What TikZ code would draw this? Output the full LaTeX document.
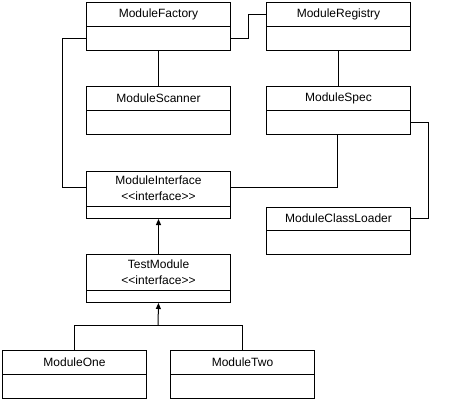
\documentclass[tikz,border=0pt]{standalone}
\usepackage{fontspec}
\setmainfont{Liberation Sans}
\usetikzlibrary{arrows.meta,calc}
\tikzset{
  classbox/.style={draw, line width=1pt, minimum width=144pt, inner sep=0pt, anchor=north west},
  classtext/.style={align=center, inner sep=0pt, font=\fontsize{12}{16}\selectfont},
  conn/.style={line width=1pt},
  inherit/.style={line width=1pt, -{Triangle[width=5pt,length=6pt]}}
}
% #1 name, #2 x, #3 ytop, #4 total height, #5 top compartment height, #6 text
\newcommand{\umlbox}[6]{%
  \node[classbox, minimum height=#4pt] (#1) at (#2,#3) {};
  \draw[conn] ([yshift=-#5pt]#1.north west) -- ([yshift=-#5pt]#1.north east);
  \node[classtext] (#1t) at ([yshift=-#5pt/2]#1.north) {#6};
}
\begin{document}
\begin{tikzpicture}[x=1pt,y=-1pt]
\useasboundingbox (0,0) rectangle (456,400);
\umlbox{fac}{86}{2}{48}{24}{ModuleFactory}
\umlbox{scn}{86}{86}{48}{24}{ModuleScanner}
\umlbox{reg}{266}{2}{48}{24}{ModuleRegistry}
\umlbox{spc}{266}{86}{48}{24}{ModuleSpec}
\umlbox{mi}{86}{171}{47}{35}{ModuleInterface\\{<}{<}interface{>}{>}}
\umlbox{cl}{266}{207}{47}{23}{ModuleClassLoader}
\umlbox{tm}{86}{254}{48}{36}{TestModule\\{<}{<}interface{>}{>}}
\umlbox{mo}{2}{350}{48}{24}{ModuleOne}
\umlbox{mt}{170}{350}{48}{24}{ModuleTwo}
% connectors
\draw[conn] (fac.south) -- (scn.north);
\draw[conn] (reg.south) -- (spc.north);
\draw[conn] ([yshift=13pt]fac.south east) -- ++(17,0) |- ([yshift=-12pt]reg.north west);
\draw[conn] ([yshift=13pt]fac.south west) -- ++(-24,0) |- ([yshift=-16pt]mi.north west);
\draw[conn] ([yshift=-16pt]mi.north east) -| ([xshift=-1pt]spc.south);
\draw[conn] ([yshift=13pt]spc.south east) -- ++(17,0) |- ([yshift=-11pt]cl.north east);
\draw[inherit] (tm.north) -- (mi.south);
\coordinate (j) at (158,325);
\draw[conn] (mo.north) |- (j);
\draw[conn] (mt.north) |- (j);
\draw[inherit] (j) -- (tm.south);
\end{tikzpicture}
\end{document}
